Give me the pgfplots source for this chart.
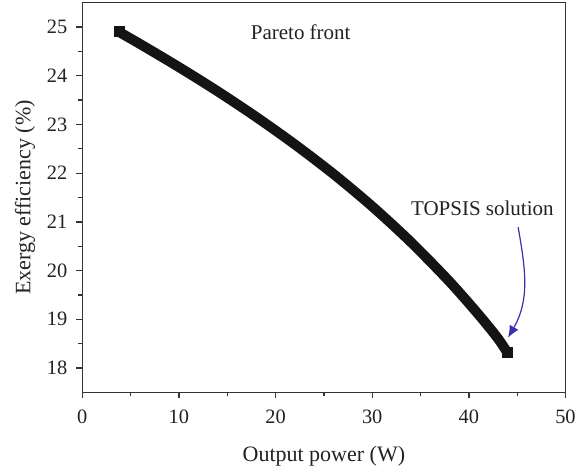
\documentclass[border=0pt]{standalone}
\usepackage{pgfplots}
\pgfplotsset{compat=1.18}
\usetikzlibrary{arrows.meta}
\usepackage{fontspec}
\setmainfont{Liberation Serif}
\definecolor{txt}{HTML}{222222}
\definecolor{axc}{HTML}{333333}
\definecolor{arr}{HTML}{3A30A8}
\begin{document}
\begin{tikzpicture}
\begin{axis}[
  scale only axis,
  width=241.6pt, height=194.8pt,
  xmin=0, xmax=50, ymin=17.5, ymax=25.5,
  xtick={0,10,...,50}, ytick={18,19,...,25},
  minor x tick num=1, minor y tick num=1,
  xtick pos=left, ytick pos=left,
  tick align=outside,
  major tick length=3pt, minor tick length=2pt,
  axis line style={axc, line width=0.65pt},
  every tick/.style={axc, line width=0.65pt},
  /pgf/number format/assume math mode=true,
  tick label style={font=\fontsize{10.2}{12}\selectfont, text=txt},
  xticklabel style={yshift=-2.5pt},
  yticklabel style={xshift=-1pt},
  label style={font=\fontsize{11}{13}\selectfont, text=txt},
  xlabel={Output power (W)},
  ylabel={Exergy efficiency (\%)},
  xlabel style={yshift=-4pt},
  ylabel style={yshift=-1pt},
]
\addplot[color={black!92}, line width=5pt, line join=round, smooth,
  mark=square*, mark size=2.5pt, mark indices={1,13},
  mark options={solid, line width=0pt}]
  coordinates {
  (3.8,24.90) (6,24.649) (10,24.177) (14,23.681) (18,23.153) (22,22.589)
  (26,21.981) (30,21.317) (34,20.585) (38,19.773) (41,19.098) (43,18.608)
  (44.0,18.31)
  };
\node[font=\fontsize{10.5}{12}\selectfont, text=txt] at (axis cs:22.6,24.90) {Pareto front};
\node[font=\fontsize{10.5}{12}\selectfont, text=txt] at (axis cs:41.4,21.27) {TOPSIS solution};
\draw[arr, line width=0.6pt, -{Latex[length=6pt,width=5pt]}] (axis cs:45.1,20.89) to[out=-80,in=60] (axis cs:44.05,18.62);
\end{axis}
\pgfresetboundingbox
\path (current axis.south west) ++(-41.15pt,-37.85pt) coordinate (bl);
\path (current axis.north east) ++(7.25pt,1.35pt) coordinate (tr);
\path[use as bounding box] (bl) rectangle (tr);
\end{tikzpicture}
\end{document}
